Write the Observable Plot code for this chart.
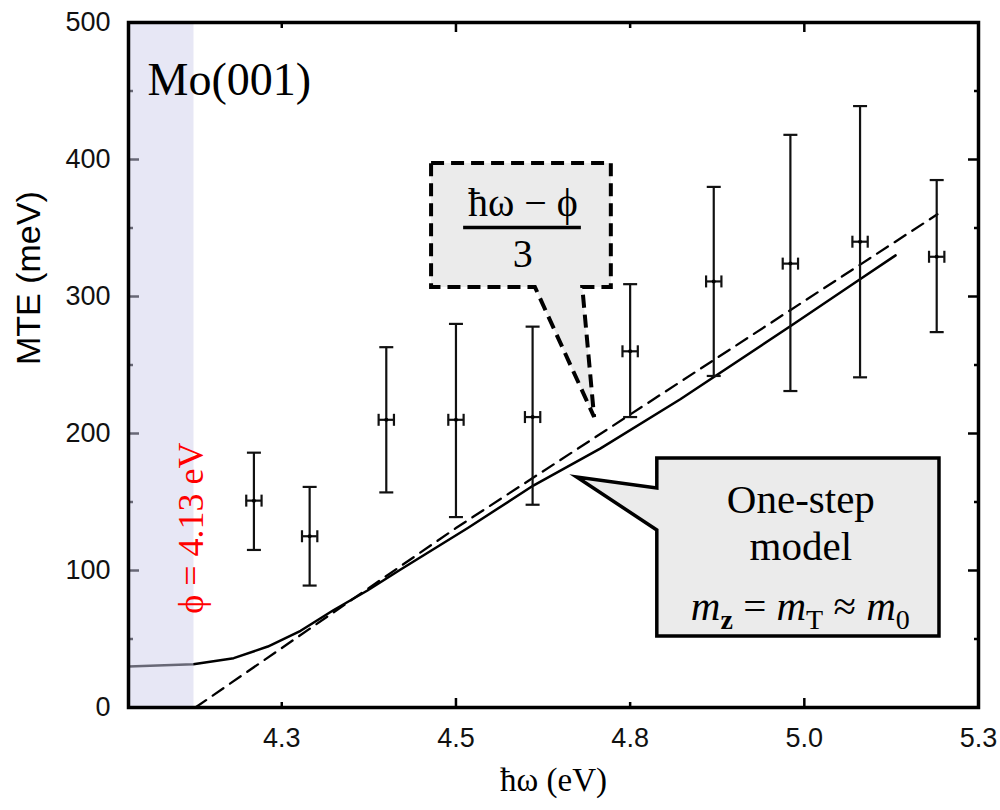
<!DOCTYPE html>
<html><head><meta charset="utf-8">
<script src="https://cdn.jsdelivr.net/npm/d3@7"></script>
<script src="https://cdn.jsdelivr.net/npm/@observablehq/plot@0.6"></script>
<style>body{margin:0;background:#fff} #chart svg{display:block}</style>
</head><body><div id="chart"></div>
<script>
// ---- data ----
const photonEnergy = [4.21, 4.29, 4.40, 4.50, 4.61, 4.75, 4.87, 4.98, 5.08, 5.19];
const mteMeasured  = [151, 125, 210, 210, 212, 260, 311, 324, 340, 329];
const mteLow       = [115, 89, 157, 139, 148, 212, 242, 231, 241, 274];
const mteHigh      = [186, 161, 263, 280, 278, 309, 380, 418, 439, 385];
const energyErr    = [0.011, 0.011, 0.011, 0.011, 0.011, 0.011, 0.011, 0.011, 0.011, 0.011];

const oneStepEnergy = [4.03, 4.123, 4.181, 4.230, 4.277, 4.324, 4.373, 4.420, 4.517, 4.611, 4.707, 4.822, 4.982, 5.081, 5.131];
const oneStepMTE    = [30, 31.5, 36, 44.5, 56, 71, 85.4, 100.5, 131, 162, 189, 225, 279, 313, 330];

const linearEnergy = [4.126, 4.50, 5.191];
const linearMTE    = [0, 131, 360];

const xDomain = [4.03, 5.25];
const yDomain = [0, 500];
const xTicks = [4.25, 4.5, 4.75, 5.0, 5.25];
const xTickLabels = ["4.3", "4.5", "4.8", "5.0", "5.3"];
const xMajorTicks = [4.5, 5.0];
const xMinorTicks = [4.25, 4.75, 5.25];
const yTicks = [0, 100, 200, 300, 400, 500];
const yMinorTicks = [50, 150, 250, 350, 450];

const phi = 4.13;
const shadeEnd = 4.124;

// ---- annotation layout (data coordinates) ----
const fracBox  = {x1: 4.465, x2: 4.723, y1: 306.6, y2: 397, tailL: 4.614, tailR: 4.682, tipX: 4.699, tipY: 211.7};
const fracText = {x: 4.596, num: 359.1, den: 321.2, bar: 350.4, barX1: 4.511, barX2: 4.680};
const modelBox = {x1: 4.789, x2: 5.194, y1: 51.8, y2: 181.8, tailTop: 159.9, tailBottom: 129.2, tipX: 4.674, tipY: 167.9};
const modelText = {x: 4.995, l1: 142.3, l2: 107.3, l3: 63.5};

const SERIF = "'Liberation Serif', 'Times New Roman', 'DejaVu Serif', serif";
const SANS = "'Liberation Sans', Arial, sans-serif";

const points = photonEnergy.map((x, i) => ({
  x, y: mteMeasured[i], lo: mteLow[i], hi: mteHigh[i],
  xl: x - energyErr[i], xh: x + energyErr[i]
}));
const oneStep = oneStepEnergy.map((x, i) => ({x, y: oneStepMTE[i]}));
const linear = linearEnergy.map((x, i) => ({x, y: linearMTE[i]}));

const hCap = {draw(ctx, size) { const r = Math.sqrt(size / Math.PI); ctx.moveTo(-r, 0); ctx.lineTo(r, 0); }};
const vCap = {draw(ctx, size) { const r = Math.sqrt(size / Math.PI); ctx.moveTo(0, -r); ctx.lineTo(0, r); }};

function calloutBoxes(index, scales) {
  const x = scales.x, y = scales.y;
  const g = d3.create("svg:g");
  const b = fracBox;
  const p1 = d3.path();
  p1.moveTo(x(b.x1), y(b.y2)); p1.lineTo(x(b.x2), y(b.y2)); p1.lineTo(x(b.x2), y(b.y1));
  p1.lineTo(x(b.tailR), y(b.y1)); p1.lineTo(x(b.tipX), y(b.tipY)); p1.lineTo(x(b.tailL), y(b.y1));
  p1.lineTo(x(b.x1), y(b.y1)); p1.closePath();
  g.append("path").attr("d", p1.toString()).attr("fill", "#ebebeb").attr("stroke", "black")
    .attr("stroke-width", 4).attr("stroke-dasharray", "13,7").attr("stroke-linejoin", "miter");
  const m = modelBox;
  const p2 = d3.path();
  p2.moveTo(x(m.x1), y(m.y2)); p2.lineTo(x(m.x2), y(m.y2)); p2.lineTo(x(m.x2), y(m.y1));
  p2.lineTo(x(m.x1), y(m.y1)); p2.lineTo(x(m.x1), y(m.tailBottom)); p2.lineTo(x(m.tipX), y(m.tipY));
  p2.lineTo(x(m.x1), y(m.tailTop)); p2.closePath();
  g.append("path").attr("d", p2.toString()).attr("fill", "#ebebeb").attr("stroke", "black")
    .attr("stroke-width", 3.5).attr("stroke-linejoin", "miter").attr("stroke-miterlimit", 20);
  return g.node();
}

function formulaMark(index, scales) {
  const t = d3.create("svg:text")
    .attr("x", scales.x(modelText.x)).attr("y", scales.y(modelText.l3))
    .attr("text-anchor", "middle").attr("font-family", SERIF).attr("font-size", 41).attr("fill", "black");
  const parts = [
    ["m", {italic: true}], ["z", {sub: true, bold: true}], [" = ", {}],
    ["m", {italic: true}], ["T", {sub: true}], [" \u2248 ", {}],
    ["m", {italic: true}], ["0", {sub: true}]
  ];
  let inSub = false;
  for (const [s, o] of parts) {
    const ts = t.append("tspan").text(s);
    if (o.italic) ts.attr("font-style", "italic");
    if (o.bold) ts.attr("font-weight", "bold");
    if (o.sub) { ts.attr("font-size", 28); if (!inSub) ts.attr("dy", 9); inSub = true; }
    else { if (inSub) ts.attr("dy", -9); inSub = false; }
  }
  return t.node();
}

const plot = Plot.plot({
  width: 1000, height: 810,
  marginLeft: 128, marginRight: 22, marginTop: 22, marginBottom: 103,
  x: {domain: xDomain},
  y: {domain: yDomain},
  style: {background: "#fff", color: "black", fontFamily: SANS, fontSize: "27px"},
  marks: [
    // inward ticks
    Plot.axisY(yTicks, {anchor: "left", tickSize: 11, inset: 11, stroke: "black", fill: "none", strokeWidth: 2.5, label: null}),
    Plot.axisY(yMinorTicks, {anchor: "left", tickSize: 5, inset: 5, stroke: "black", fill: "none", strokeWidth: 2.5, label: null}),
    Plot.axisY(yTicks, {anchor: "right", tickSize: 11, inset: 11, stroke: "black", fill: "none", strokeWidth: 2.5, label: null}),
    Plot.axisY(yMinorTicks, {anchor: "right", tickSize: 5, inset: 5, stroke: "black", fill: "none", strokeWidth: 2.5, label: null}),
    Plot.axisX(xMajorTicks, {anchor: "bottom", tickSize: 9, inset: 9, stroke: "black", fill: "none", strokeWidth: 2.5, label: null}),
    Plot.axisX(xMinorTicks, {anchor: "bottom", tickSize: 5, inset: 5, stroke: "black", fill: "none", strokeWidth: 2.5, label: null}),
    Plot.axisX(xMajorTicks, {anchor: "top", tickSize: 9, inset: 9, stroke: "black", fill: "none", strokeWidth: 2.5, label: null}),
    Plot.axisX(xMinorTicks, {anchor: "top", tickSize: 5, inset: 5, stroke: "black", fill: "none", strokeWidth: 2.5, label: null}),
    // tick labels
    Plot.axisY(yTicks, {anchor: "left", tickSize: 0, tickPadding: 18, fontSize: 27, fontFamily: SANS, fill: "#111", label: null}),
    Plot.axisX(xTicks, {anchor: "bottom", tickSize: 0, tickPadding: 20, fontSize: 27, fontFamily: SANS, fill: "#111", label: null,
      tickFormat: d => xTickLabels[xTicks.indexOf(d)]}),
    // model lines
    Plot.line(oneStep, {x: "x", y: "y", stroke: "black", strokeWidth: 2.5}),
    Plot.line(linear, {x: "x", y: "y", stroke: "black", strokeWidth: 2.3, strokeDasharray: "13,8"}),
    // error bars
    Plot.ruleX(points, {x: "x", y1: "lo", y2: "hi", stroke: "#111", strokeWidth: 2.2}),
    Plot.dot(points, {x: "x", y: "lo", r: 7, symbol: hCap, fill: "none", stroke: "#111", strokeWidth: 2.2}),
    Plot.dot(points, {x: "x", y: "hi", r: 7, symbol: hCap, fill: "none", stroke: "#111", strokeWidth: 2.2}),
    Plot.ruleY(points, {y: "y", x1: "xl", x2: "xh", stroke: "#111", strokeWidth: 2.2}),
    Plot.dot(points, {x: "xl", y: "y", r: 6, symbol: vCap, fill: "none", stroke: "#111", strokeWidth: 2.2}),
    Plot.dot(points, {x: "xh", y: "y", r: 6, symbol: vCap, fill: "none", stroke: "#111", strokeWidth: 2.2}),
    Plot.dot(points, {x: "x", y: "y", r: 2, fill: "black", stroke: "none"}),
    // shaded region below work function
    Plot.rect([0], {x1: xDomain[0], x2: shadeEnd, y1: yDomain[0], y2: yDomain[1], fill: "#cfcfeb", fillOpacity: 0.5}),
    Plot.text([`\u03D5 = ${phi} eV`], {x: phi, y: 131, dx: -7, rotate: -90, fill: "#ff0000", fontSize: 36, fontFamily: SERIF}),
    // callouts
    calloutBoxes,
    Plot.text(["\u0127\u03C9 \u2212 \u03D5"], {x: fracText.x, y: fracText.num, lineAnchor: "bottom", fontSize: 40, fontFamily: SERIF, fill: "black"}),
    Plot.ruleY([fracText.bar], {x1: fracText.barX1, x2: fracText.barX2, stroke: "black", strokeWidth: 3.5}),
    Plot.text(["3"], {x: fracText.x, y: fracText.den, lineAnchor: "bottom", fontSize: 40, fontFamily: SERIF, fill: "black"}),
    Plot.text(["One-step"], {x: modelText.x, y: modelText.l1, lineAnchor: "bottom", fontSize: 41, fontFamily: SERIF, fill: "black"}),
    Plot.text(["model"], {x: modelText.x, y: modelText.l2, lineAnchor: "bottom", fontSize: 41, fontFamily: SERIF, fill: "black"}),
    formulaMark,
    // titles
    Plot.text(["Mo(001)"], {frameAnchor: "top-left", textAnchor: "start", dx: 19, dy: 40, fontSize: 46, fontFamily: SERIF, fill: "black"}),
    Plot.text(["MTE (meV)"], {frameAnchor: "left", rotate: -90, dx: -99, fontSize: 34, fontFamily: SANS, fill: "black"}),
    Plot.text(["\u0127\u03C9 (eV)"], {frameAnchor: "bottom", dy: 83, fontSize: 33, fontFamily: SERIF, fill: "black"}),
    Plot.frame({stroke: "black", strokeWidth: 3.5})
  ]
});
document.getElementById("chart").append(plot);
</script>
</body></html>
